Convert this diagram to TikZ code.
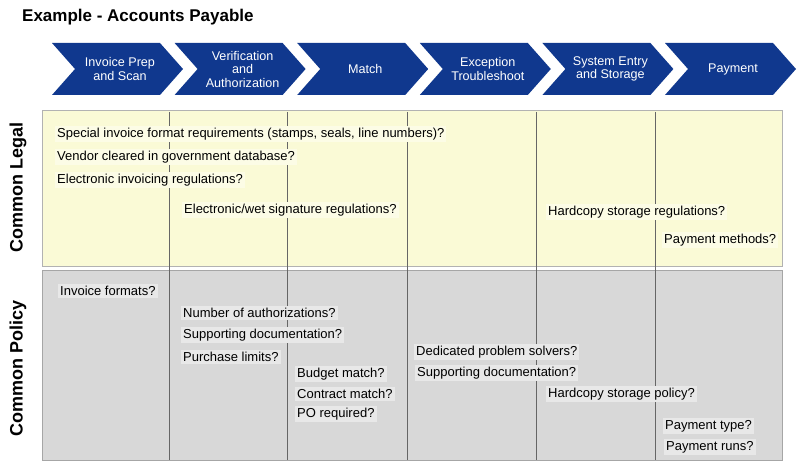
\documentclass[tikz,border=0pt]{standalone}
\usepackage{fontspec}
\setmainfont{Liberation Sans}
\definecolor{stepblue}{RGB}{16,56,142}
\definecolor{legalfill}{RGB}{250,250,214}
\definecolor{policyfill}{RGB}{216,216,216}
\tikzset{
  chev/.style={fill=stepblue},
  chevtext/.style={text=white,font=\fontsize{12.6}{13.5}\selectfont,align=center},
  item/.style={anchor=west,inner sep=2pt,font=\fontsize{13}{15}\selectfont},
  legalitem/.style={item,fill=legalfill!60!white},
  policyitem/.style={item,fill=policyfill!60!white},
  rowlabel/.style={rotate=90,font=\bfseries\fontsize{18}{20}\selectfont},
}
\begin{document}
\begin{tikzpicture}[x=1pt,y=-1pt]
  \useasboundingbox (0,0) rectangle (800,470);
  % titel
  \node[anchor=west,inner sep=0pt,font=\bfseries\fontsize{17}{19}\selectfont] (title) at (22,17) {Example - Accounts Payable};
  % stappen
  \foreach \i/\txt in {0/{Invoice Prep\\and Scan},1/{Verification\\and\\Authorization},2/{Match},3/{Exception\\Troubleshoot},4/{System Entry\\and Storage},5/{Payment}} {
    \pgfmathsetmacro{\xs}{52+122.6*\i}
    \fill[chev] (\xs,43) -- ({\xs+108},43) -- ({\xs+131},69) -- ({\xs+108},95) -- (\xs,95) -- ({\xs+23},69) -- cycle;
    \node[chevtext] (step\i) at ({\xs+68},69) {\txt};
  }
  % vlakken
  \fill[legalfill] (42,110) rectangle (782,266);
  \draw[gray!60] (42,110) rectangle (782,266);
  \fill[policyfill] (42,270) rectangle (782,460);
  \draw[gray!70] (42,270) rectangle (782,460);
  % kolomlijnen
  \foreach \x in {169,287,407,536,655}
    \draw[gray!80!black,line width=0.7pt] (\x,112) -- (\x,460);
  % rijlabels
  \node[rowlabel] (legal) at (18,187) {Common Legal};
  \node[rowlabel] (policy) at (18,368) {Common Policy};
  % juridisch
  \node[legalitem] (l1) at (55,134) {Special invoice format requirements (stamps, seals, line numbers)?};
  \node[legalitem] (l2) at (55,157) {Vendor cleared in government database?};
  \node[legalitem] (l3) at (55,180) {Electronic invoicing regulations?};
  \node[legalitem] (l4) at (182,210) {Electronic/wet signature regulations?};
  \node[legalitem] (l5) at (546,212) {Hardcopy storage regulations?};
  \node[legalitem] (l6) at (662,240) {Payment methods?};
  % beleid
  \node[policyitem] (p1) at (58,291) {Invoice formats?};
  \node[policyitem] (p2) at (181,313) {Number of authorizations?};
  \node[policyitem] (p3) at (181,335) {Supporting documentation?};
  \node[policyitem] (p4) at (181,357) {Purchase limits?};
  \node[policyitem] (p5) at (295,374) {Budget match?};
  \node[policyitem] (p6) at (295,394) {Contract match?};
  \node[policyitem] (p7) at (295,414) {PO required?};
  \node[policyitem] (p8) at (414,352) {Dedicated problem solvers?};
  \node[policyitem] (p9) at (415,373) {Supporting documentation?};
  \node[policyitem] (p10) at (546,394) {Hardcopy storage policy?};
  \node[policyitem] (p11) at (663,426) {Payment type?};
  \node[policyitem] (p12) at (664,447) {Payment runs?};
\end{tikzpicture}
\end{document}
